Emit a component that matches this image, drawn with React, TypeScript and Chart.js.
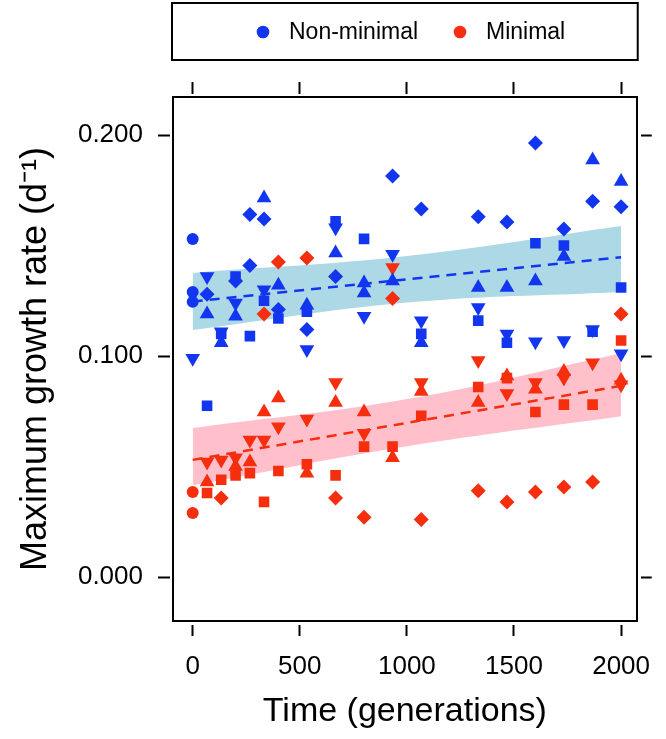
import React, { useEffect, useRef } from 'react';
import { Chart, registerables } from 'chart.js';

Chart.register(...registerables);

const FONT = "'Liberation Sans', Arial, Helvetica, sans-serif";

// Axis ticks
const xTicks = [0, 500, 1000, 1500, 2000];
const yTicks = [0, 0.1, 0.2];

// Legend
const legendLabels = ['Non-minimal', 'Minimal'];

// Non-minimal (blue) replicate lines, by symbol
const nmCircleGen = [0, 0, 0];
const nmCircleRate = [0.153, 0.129, 0.1245];
const nmSquareGen = [67, 133, 200, 267, 333, 400, 533, 667, 800, 1067, 1333, 1467, 1600, 1733, 1867, 2000];
const nmSquareRate = [0.0775, 0.110, 0.136, 0.109, 0.125, 0.117, 0.120, 0.161, 0.153, 0.110, 0.116, 0.106, 0.151, 0.150, 0.111, 0.131];
const nmDiamondGen = [67, 200, 267, 267, 333, 400, 533, 667, 933, 1067, 1333, 1467, 1600, 1733, 1867, 2000];
const nmDiamondRate = [0.128, 0.134, 0.164, 0.141, 0.162, 0.121, 0.112, 0.136, 0.1815, 0.1665, 0.163, 0.1606, 0.1964, 0.1575, 0.170, 0.1675];
const nmTriUpGen = [67, 133, 200, 333, 400, 533, 667, 800, 800, 933, 1067, 1333, 1467, 1600, 1733, 1867, 2000];
const nmTriUpRate = [0.119, 0.106, 0.118, 0.1715, 0.132, 0.123, 0.1466, 0.133, 0.1285, 0.134, 0.106, 0.131, 0.131, 0.134, 0.145, 0.1887, 0.179];
const nmTriDownGen = [0, 67, 133, 200, 333, 533, 667, 800, 933, 1067, 1333, 1467, 1600, 1733, 1867, 2000];
const nmTriDownRate = [0.099, 0.136, 0.111, 0.124, 0.130, 0.103, 0.158, 0.118, 0.146, 0.116, 0.122, 0.110, 0.1065, 0.107, 0.112, 0.101];

// Minimal (red) replicate lines, by symbol
const mCircleGen = [0, 0];
const mCircleRate = [0.0385, 0.029];
const mSquareGen = [67, 133, 200, 267, 333, 400, 533, 667, 800, 933, 1067, 1333, 1467, 1600, 1733, 1867, 2000];
const mSquareRate = [0.038, 0.044, 0.046, 0.047, 0.034, 0.048, 0.051, 0.046, 0.059, 0.059, 0.073, 0.086, 0.090, 0.0747, 0.078, 0.078, 0.107];
const mDiamondGen = [133, 333, 400, 533, 667, 800, 933, 1067, 1333, 1467, 1600, 1733, 1867, 2000];
const mDiamondRate = [0.0357, 0.119, 0.1425, 0.1443, 0.0357, 0.027, 0.126, 0.026, 0.039, 0.034, 0.0385, 0.0407, 0.043, 0.119];
const mTriUpGen = [67, 200, 267, 333, 400, 533, 667, 800, 933, 1067, 1333, 1467, 1600, 1733, 2000];
const mTriUpRate = [0.043, 0.050, 0.052, 0.0747, 0.081, 0.047, 0.079, 0.0747, 0.054, 0.084, 0.079, 0.091, 0.085, 0.093, 0.089];
const mTriDownGen = [67, 133, 200, 267, 333, 400, 533, 667, 800, 933, 1067, 1333, 1467, 1600, 1733, 1867, 2000];
const mTriDownRate = [0.052, 0.053, 0.054, 0.062, 0.062, 0.068, 0.0715, 0.088, 0.065, 0.140, 0.088, 0.098, 0.083, 0.088, 0.090, 0.097, 0.087];

// Fitted regression lines and confidence bands
const fitGen = [0, 2000];
const nmFit = [0.1247, 0.1447];
const mFit = [0.053, 0.0865];
const bandGen = [0, 1000, 2000];
const nmBandLower = [0.1118, 0.1242, 0.129];
const nmBandUpper = [0.1376, 0.1452, 0.1588];
const mBandLower = [0.0415, 0.0592, 0.0728];
const mBandUpper = [0.0674, 0.0805, 0.1013];

const BLUE = '#1236F0';
const RED = '#F52E0E';
const BLUE_BAND = '#ADD8E6';
const RED_BAND = '#FFC0CB';

const pts = (g: number[], r: number[]) => g.map((x, i) => ({ x, y: r[i] }));

const symbolSet = (label: string, g: number[], r: number[], color: string, style: string, radius: number, rotation = 0) => ({
  type: 'scatter',
  label,
  data: pts(g, r),
  pointStyle: style,
  pointRadius: radius,
  pointHoverRadius: radius,
  pointRotation: rotation,
  pointBackgroundColor: color,
  pointBorderColor: color,
  pointBorderWidth: 0,
  backgroundColor: color,
  borderColor: color,
  showLine: false,
  order: 1,
});

const bandEdge = (label: string, g: number[], r: number[], fill: any, color: string) => ({
  type: 'line',
  label,
  data: pts(g, r),
  borderWidth: 0,
  borderColor: 'rgba(0,0,0,0)',
  backgroundColor: color,
  pointRadius: 0,
  tension: 0.4,
  fill,
  order: 30,
});

const fitLine = (label: string, g: number[], r: number[], color: string) => ({
  type: 'line',
  label,
  data: pts(g, r),
  borderColor: color,
  borderWidth: 2.5,
  borderDash: [10, 7],
  pointRadius: 0,
  fill: false,
  order: 20,
});

const legendPlugin = {
  id: 'boxLegend',
  afterDraw(chart: any) {
    const { ctx, chartArea } = chart;
    ctx.save();
    ctx.lineWidth = 2;
    ctx.strokeStyle = '#000';
    ctx.strokeRect(chartArea.left - 1, 3, chartArea.right - chartArea.left + 2, 57);
    ctx.font = `23px ${FONT}`;
    ctx.textBaseline = 'middle';
    ctx.textAlign = 'left';
    const colors = [BLUE, RED];
    const markX = [263, 460];
    const cy = 32;
    legendLabels.forEach((t, i) => {
      ctx.fillStyle = colors[i];
      ctx.beginPath();
      ctx.arc(markX[i], cy, 6.3, 0, Math.PI * 2);
      ctx.fill();
      ctx.fillStyle = '#000';
      ctx.fillText(t, markX[i] + 26, cy + 1);
    });
    ctx.restore();
  },
};

const gridOpts = (dash: number[]) => ({
  display: true,
  drawOnChartArea: false,
  drawTicks: true,
  tickLength: 15,
  tickWidth: 2,
  tickColor: '#000',
  tickBorderDash: dash,
});

const borderOpts = { display: true, color: '#000', width: 2 };
const tickFont = { family: FONT, size: 26 };

export default function App() {
  const ref = useRef<HTMLCanvasElement | null>(null);

  useEffect(() => {
    if (!ref.current) return;
    const X_MIN = -92;
    const X_MAX = 2073;
    const Y_MIN = -0.0199;
    const Y_MAX = 0.2172;
    const chart = new Chart(ref.current, {
      type: 'scatter',
      data: {
        datasets: [
          symbolSet('nm-circle', nmCircleGen, nmCircleRate, BLUE, 'circle', 6),
          symbolSet('nm-square', nmSquareGen, nmSquareRate, BLUE, 'rect', 7.5),
          symbolSet('nm-diamond', nmDiamondGen, nmDiamondRate, BLUE, 'rectRot', 7.5),
          symbolSet('nm-triup', nmTriUpGen, nmTriUpRate, BLUE, 'triangle', 8.5),
          symbolSet('nm-tridown', nmTriDownGen, nmTriDownRate, BLUE, 'triangle', 8.5, 180),
          symbolSet('m-circle', mCircleGen, mCircleRate, RED, 'circle', 6),
          symbolSet('m-square', mSquareGen, mSquareRate, RED, 'rect', 7.5),
          symbolSet('m-diamond', mDiamondGen, mDiamondRate, RED, 'rectRot', 7.5),
          symbolSet('m-triup', mTriUpGen, mTriUpRate, RED, 'triangle', 8.5),
          symbolSet('m-tridown', mTriDownGen, mTriDownRate, RED, 'triangle', 8.5, 180),
          fitLine('nm-fit', fitGen, nmFit, BLUE),
          fitLine('m-fit', fitGen, mFit, RED),
          bandEdge('nm-lower', bandGen, nmBandLower, false, BLUE_BAND),
          bandEdge('nm-upper', bandGen, nmBandUpper, '-1', BLUE_BAND),
          bandEdge('m-lower', bandGen, mBandLower, false, RED_BAND),
          bandEdge('m-upper', bandGen, mBandUpper, '-1', RED_BAND),
        ] as any,
      },
      options: {
        animation: false,
        responsive: true,
        maintainAspectRatio: false,
        layout: { padding: 0 },
        plugins: {
          legend: { display: false },
          tooltip: { enabled: false },
          title: { display: false },
        },
        scales: {
          x: {
            type: 'linear',
            position: 'bottom',
            min: X_MIN,
            max: X_MAX,
            afterBuildTicks: (s: any) => { s.ticks = xTicks.map((v) => ({ value: v })); },
            afterFit: (s: any) => { s.height = 118; },
            ticks: { font: tickFont, color: '#000', padding: 15, maxRotation: 0, autoSkip: false, callback: (v: any) => String(v) },
            grid: gridOpts([0, 3, 12, 100]),
            border: borderOpts,
            title: { display: true, text: 'Time (generations)', color: '#000', font: { family: FONT, size: 34 }, padding: { top: 0, bottom: 7 } },
          },
          x2: {
            type: 'linear',
            axis: 'x',
            position: 'top',
            min: X_MIN,
            max: X_MAX,
            afterBuildTicks: (s: any) => { s.ticks = xTicks.map((v) => ({ value: v })); },
            afterFit: (s: any) => { s.height = 97; },
            ticks: { display: false },
            grid: gridOpts([12, 100]),
            border: borderOpts,
          },
          y: {
            type: 'linear',
            position: 'left',
            min: Y_MIN,
            max: Y_MAX,
            afterBuildTicks: (s: any) => { s.ticks = yTicks.map((v) => ({ value: v })); },
            afterFit: (s: any) => { s.width = 173; },
            ticks: { font: tickFont, color: '#000', padding: 15, autoSkip: false, callback: (v: any) => Number(v).toFixed(3) },
            grid: gridOpts([12, 100]),
            border: borderOpts,
            title: { display: true, text: 'Maximum growth rate (d\u207B\u00B9)', color: '#000', font: { family: FONT, size: 36 }, padding: { top: 14, bottom: 0 } },
          },
          y2: {
            type: 'linear',
            axis: 'y',
            position: 'right',
            min: Y_MIN,
            max: Y_MAX,
            afterBuildTicks: (s: any) => { s.ticks = yTicks.map((v) => ({ value: v })); },
            afterFit: (s: any) => { s.width = 19; },
            ticks: { display: false },
            grid: gridOpts([0, 3, 12, 100]),
            border: borderOpts,
          },
        } as any,
      },
      plugins: [legendPlugin],
    });
    return () => chart.destroy();
  }, []);

  return (
    <div style={{ position: 'absolute', left: 0, top: 0, width: 666, height: 739, background: '#fff' }}>
      <canvas ref={ref} />
    </div>
  );
}
